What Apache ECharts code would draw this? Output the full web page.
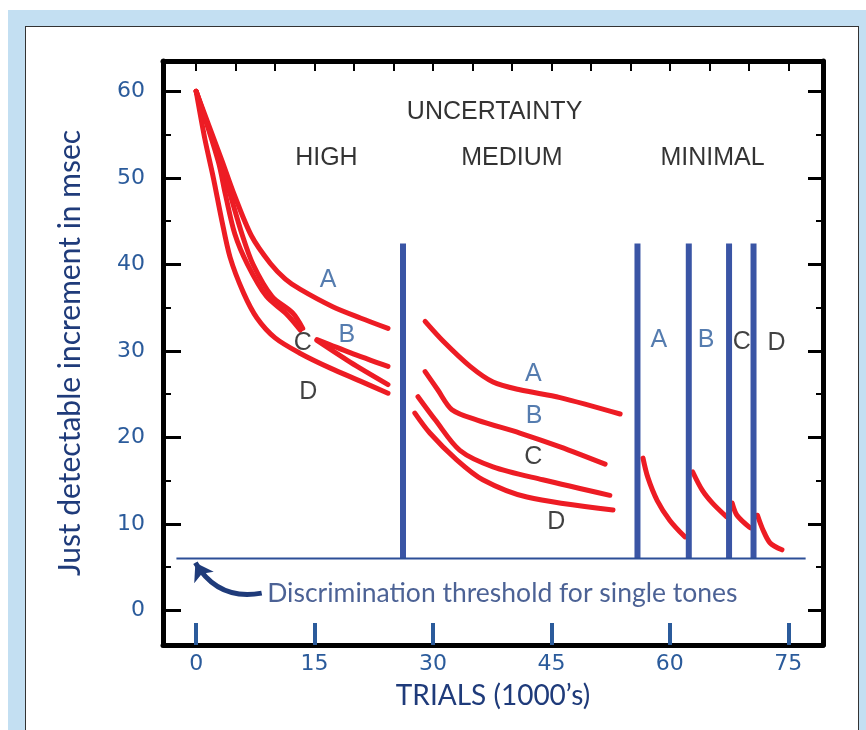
<!DOCTYPE html>
<html>
<head>
<meta charset="utf-8">
<script src="https://cdn.jsdelivr.net/npm/echarts@6/dist/echarts.min.js"></script>
<style>
html,body{margin:0;padding:0;background:#fff;}
#frame{position:absolute;left:8px;top:10px;width:858px;height:730px;background:#c3dff2;}
#panel{position:absolute;left:25px;top:26px;width:832px;height:720px;background:#fff;border:1px solid #333;}
#main{position:absolute;left:0;top:0;width:866px;height:730px;}
</style>
</head>
<body>
<div id="frame"></div>
<div id="panel"></div>
<div id="main"></div>
<script>
// ticks
var xTicks = [0, 15, 30, 45, 60, 75];
var xTopTicks = [0, 5, 10, 15, 20, 25, 30, 35, 40, 45, 50, 55, 60, 65, 70, 75];
var yTicks = [0, 10, 20, 30, 40, 50, 60];
var yMinorTicks = [5, 15, 25, 35, 45, 55];

// HIGH uncertainty curves (B and C have a gap where label C sits)
var highA = [[0,60],[3.3,51.9],[4.8,48.1],[7.0,43.3],[9.4,40.1],[11.3,38.3],[13.2,37.1],[17.3,35.1],[20.8,33.8],[24.3,32.6]];
var highB1 = [[0,60],[3.0,51.9],[4.3,48.1],[5.8,43.5],[7.2,40.0],[9.6,36.3],[12.2,34.4],[13.5,32.6]];
var highB2 = [[15.3,31.3],[19.5,29.8],[24.3,28.2]];
var highC1 = [[0,60],[2.8,51.9],[3.7,48.1],[4.9,43.5],[6.5,40.0],[8.9,36.3],[11.4,34.3],[13.2,32.4]];
var highC2 = [[15.3,31.2],[19.5,28.7],[24.3,26.1]];
var highD = [[0,60],[1.1,54.5],[2.2,49.9],[3.2,45.3],[4.3,40.8],[6.0,36.7],[7.7,33.8],[10.0,31.5],[13.2,29.7],[17.0,28.0],[20.8,26.5],[24.3,25.1]];

// MEDIUM uncertainty
var medA = [[29.0,33.4],[31.3,31.1],[34.7,28.2],[37.6,26.4],[41.0,25.5],[46.1,24.6],[53.7,22.7]];
var medB = [[29.0,27.6],[30.6,25.5],[32.4,23.2],[35.6,22.0],[41.0,20.5],[46.1,18.9],[51.8,16.9]];
var medC = [[28.1,24.7],[30.3,22.0],[33.4,18.5],[37.6,16.6],[43.9,15.1],[52.4,13.3]];
var medD = [[27.7,22.8],[29.6,20.5],[33.0,17.4],[36.3,15.1],[41.9,13.1],[52.8,11.6]];

// MINIMAL uncertainty
var minA = [[56.6,17.6],[57.2,15.4],[58.4,12.7],[60.0,10.4],[61.9,8.5]];
var minB = [[62.9,16.0],[64.1,13.9],[65.4,12.4],[67.2,10.8]];
var minC = [[67.9,12.4],[68.5,11.0],[70.1,9.6],[70.5,9.5]];
var minD = [[71.1,11.0],[71.8,9.3],[72.7,7.8],[74.2,7.0]];

// blue dividers and threshold
var dividerX = [26.2, 55.9, 62.4, 67.5, 70.6];
var dividerBottom = 6, dividerTop = 42.4;
var threshold = [[-2.5, 6], [77.2, 6]];
var arrowCoords = [[8.3, 2.0], [-0.1, 5.5]];

// text
var titleTexts = ['UNCERTAINTY', 'HIGH', 'MEDIUM', 'MINIMAL'];
var titlePos = [[37.8, 57.6], [16.5, 52.3], [40.0, 52.3], [65.4, 52.3]];
var curveNames = ['A', 'B', 'C', 'D'];
var highLabelPos = [[16.7, 38.2], [19.1, 31.8], [13.5, 30.9], [14.2, 25.2]];
var medLabelPos = [[42.7, 27.3], [42.8, 22.5], [42.7, 17.7], [45.6, 10.2]];
var minLabelPos = [[58.6, 31.2], [64.6, 31.2], [69.1, 31.0], [73.5, 30.9]];
var noteText = 'Discrimination threshold for single tones';
var notePos = [9.0, 2.0];

var RED = '#ed1c24', BLUE = '#3a55a5', NAVY = '#1f3b7a', TICKBLUE = '#2b5b9b';

var myChart = echarts.init(document.getElementById('main'));

var series = [];
[highA, highB1, highB2, highC1, highC2, highD, medA, medB, medC, medD, minA, minB, minC, minD].forEach(function (d) {
    series.push({
        type: 'line', data: d, smooth: 0.3, showSymbol: false, silent: true, z: 3,
        lineStyle: {color: RED, width: 5, cap: 'round', join: 'round'}
    });
});
dividerX.forEach(function (x) {
    series.push({
        type: 'line', data: [[x, dividerBottom], [x, dividerTop]], showSymbol: false, silent: true, z: 4,
        lineStyle: {color: BLUE, width: 6}
    });
});
series.push({
    type: 'line', data: threshold, showSymbol: false, silent: true, z: 4,
    lineStyle: {color: '#2c4f97', width: 2}
});
series.push({
    type: 'lines', coordinateSystem: 'cartesian2d', silent: true, z: 5,
    symbol: ['none', 'arrow'], symbolSize: 17,
    lineStyle: {color: NAVY, width: 5, curveness: 0.35, opacity: 1},
    data: [{coords: arrowCoords}]
});

function textItems(names, pos, colors) {
    return names.map(function (n, i) {
        return {name: n, value: pos[i], label: {color: colors[i]}};
    });
}
var letterColors = [TICKBLUE, TICKBLUE, '#111', '#111'];
series.push({
    type: 'scatter', symbolSize: 0, silent: true, z: 6,
    label: {show: true, position: 'inside', formatter: function (p) { return p.name; },
        fontFamily: 'Liberation Sans', fontSize: 25, color: '#111'},
    data: textItems(titleTexts, titlePos, ['#000', '#000', '#000', '#000'])
        .concat(textItems(curveNames, highLabelPos, letterColors))
        .concat(textItems(curveNames, medLabelPos, letterColors))
        .concat(textItems(curveNames, minLabelPos, letterColors))
});
series.push({
    type: 'scatter', symbolSize: 0, silent: true, z: 6,
    label: {show: true, position: 'right', distance: 0, formatter: function (p) { return p.name; },
        fontFamily: 'Lato', fontSize: 26.5, color: NAVY},
    data: [{name: noteText, value: notePos}]
});

var xBase = {type: 'value', min: -4.2, max: 79.4, splitLine: {show: false}};
var yBase = {type: 'value', min: -4, max: 63.5, splitLine: {show: false}};

var option = {
    animation: false,
    grid: {left: 163, right: 43, top: 61, bottom: 85},
    xAxis: [
        echarts.util.merge({
            position: 'bottom',
            axisLine: {show: true, onZero: false, lineStyle: {color: '#000', width: 5}},
            axisTick: {show: true, inside: true, length: 22, customValues: xTicks, lineStyle: {color: TICKBLUE, width: 4}},
            axisLabel: {customValues: xTicks, color: TICKBLUE, fontSize: 22, fontFamily: 'DejaVu Sans', margin: 8},
            name: 'TRIALS (1000\u2019s)', nameLocation: 'middle', nameGap: 37,
            nameTextStyle: {fontFamily: 'Lato', fontSize: 28, color: NAVY}
        }, xBase, true),
        echarts.util.merge({
            position: 'top',
            axisLine: {show: true, onZero: false, lineStyle: {color: '#000', width: 5}},
            axisTick: {show: true, inside: true, length: 10, customValues: xTopTicks, lineStyle: {color: '#000', width: 2}},
            axisLabel: {show: false}
        }, xBase, true)
    ],
    yAxis: [
        echarts.util.merge({
            position: 'left',
            axisLine: {show: true, onZero: false, lineStyle: {color: '#000', width: 5}},
            axisTick: {show: true, inside: true, length: 18, customValues: yTicks, lineStyle: {color: '#000', width: 3}},
            axisLabel: {customValues: yTicks, color: TICKBLUE, fontSize: 22, fontFamily: 'DejaVu Sans', margin: 18},
            name: 'Just detectable increment in msec', nameLocation: 'middle', nameGap: 78, nameRotate: 90,
            nameTextStyle: {fontFamily: 'Lato', fontSize: 30, color: NAVY}
        }, yBase, true),
        echarts.util.merge({
            position: 'left',
            axisLine: {show: false, onZero: false},
            axisTick: {show: true, inside: true, length: 8, customValues: yMinorTicks, lineStyle: {color: '#000', width: 2}},
            axisLabel: {show: false}
        }, yBase, true),
        echarts.util.merge({
            position: 'right',
            axisLine: {show: true, onZero: false, lineStyle: {color: '#000', width: 5}},
            axisTick: {show: true, inside: true, length: 15, customValues: yTicks, lineStyle: {color: '#000', width: 3}},
            axisLabel: {show: false}
        }, yBase, true),
        echarts.util.merge({
            position: 'right',
            axisLine: {show: false, onZero: false},
            axisTick: {show: true, inside: true, length: 7, customValues: yMinorTicks, lineStyle: {color: '#000', width: 2}},
            axisLabel: {show: false}
        }, yBase, true)
    ],
    series: series
};

myChart.setOption(option);
</script>
</body>
</html>
